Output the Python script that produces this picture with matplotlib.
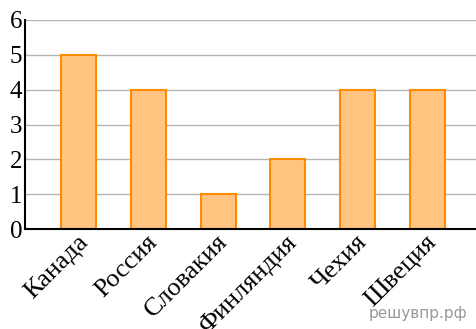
import numpy as np
import matplotlib.pyplot as plt
import matplotlib.transforms as mtransforms

countries = ['Канада', 'Россия', 'Словакия', 'Финляндия', 'Чехия', 'Швеция']
values = [5, 4, 1, 2, 4, 4]
yticks = [0, 1, 2, 3, 4, 5, 6]

plt.rcParams['font.family'] = ['Liberation Serif', 'DejaVu Serif']

fig = plt.figure(figsize=(4.76, 3.29), dpi=100)
ax = fig.add_axes([25 / 476, 1 - 229 / 329, 451 / 476, 209 / 329])

x = np.arange(len(countries))
ax.bar(x, values, width=0.5, color='#FFC580', edgecolor='#FF8C00', linewidth=1.5, zorder=3)

ax.set_ylim(0, 6)
ax.set_xlim(-0.77, 5.7)
ax.set_yticks(yticks)
ax.yaxis.grid(True, color='#b4b4b4', linewidth=1.0, zorder=0)
ax.set_axisbelow(True)

for s in ['top', 'right']:
    ax.spines[s].set_visible(False)
for s in ['left', 'bottom']:
    ax.spines[s].set_linewidth(1.5)
    ax.spines[s].set_zorder(4)

ax.tick_params(axis='both', length=0, labelsize=18)
ax.tick_params(axis='y', pad=2)
ax.set_xticks(x)
ax.set_xticklabels(countries, rotation=45, ha='right', va='top', rotation_mode='anchor', fontsize=19)
offset = mtransforms.ScaledTranslation(-2 / 100, 3 / 100, fig.dpi_scale_trans)
for lbl in ax.get_xticklabels():
    lbl.set_transform(lbl.get_transform() + offset)

fig.text(467 / 476, 1 - 318 / 329, 'решувпр.рф', ha='right', va='baseline',
         color='#999999', fontsize=11, family=['DejaVu Sans'])

fig.savefig('out.png', dpi=100)
